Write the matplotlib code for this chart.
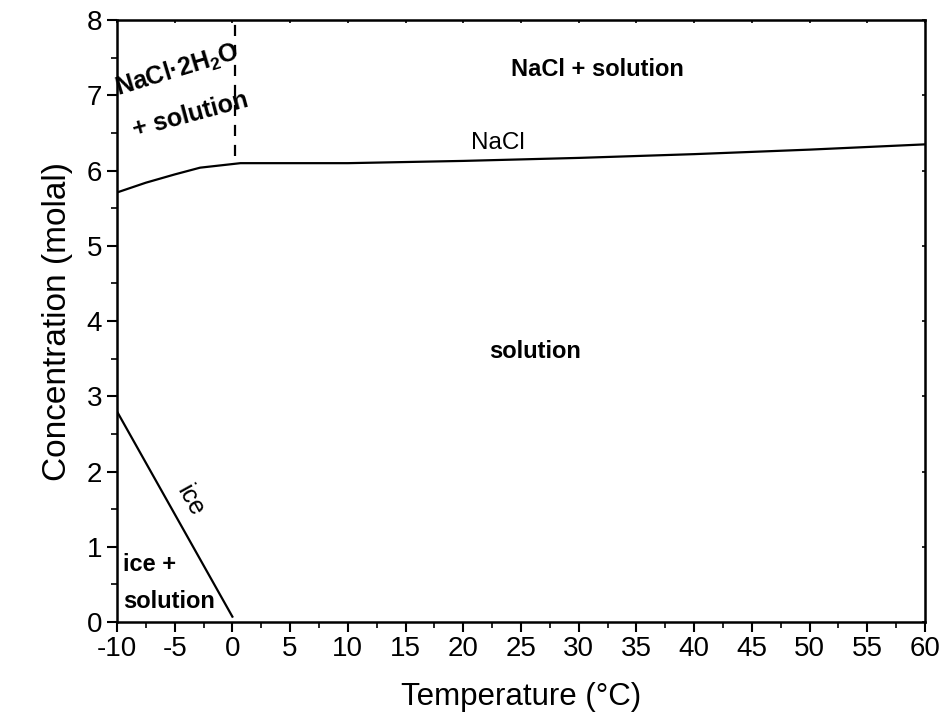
import matplotlib
matplotlib.use("Agg")
import matplotlib.pyplot as plt
from matplotlib.ticker import MultipleLocator

plt.rcParams['font.family'] = ['Liberation Sans', 'DejaVu Sans']
plt.rcParams['mathtext.fontset'] = 'custom'
plt.rcParams['mathtext.rm'] = 'Liberation Sans'
plt.rcParams['mathtext.bf'] = 'Liberation Sans:bold'

# NaCl solubility curve
nacl_t = [-10, -7.5, -5, -2.8, 0.7, 10, 20, 30, 40, 50, 60]
nacl_c = [5.71, 5.84, 5.95, 6.04, 6.10, 6.10, 6.13, 6.17, 6.22, 6.28, 6.35]

# ice line
ice_t = [-10, 0]
ice_c = [2.8, 0.07]

# NaCl.2H2O / NaCl boundary (dashed)
dash_t = [0.2, 0.2]
dash_c = [6.2, 8]

xticks = list(range(-10, 61, 5))
yticks = list(range(0, 9))

fig = plt.figure(figsize=(9.43, 7.24), dpi=100)
ax = fig.add_axes([0.124, 0.141, 0.857, 0.831])

ax.plot(nacl_t, nacl_c, color='black', lw=1.6)
ax.plot(ice_t, ice_c, color='black', lw=1.6)
ax.plot(dash_t, dash_c, color='black', lw=1.6, ls=(0, (5, 4)))

ax.set_xlim(-10, 60)
ax.set_ylim(0, 8)
ax.set_xticks(xticks)
ax.set_xticklabels([str(t) for t in xticks])
ax.set_yticks(yticks)
ax.xaxis.set_minor_locator(MultipleLocator(2.5))
ax.yaxis.set_minor_locator(MultipleLocator(0.5))
ax.tick_params(which='major', direction='out', length=7, width=1.5, labelsize=20)
ax.tick_params(which='minor', direction='out', length=4, width=1.2)
for s in ax.spines.values():
    s.set_linewidth(1.8)

# tiny inward ticks on top and right
sec_x = ax.secondary_xaxis('top')
sec_x.set_xticks(xticks)
sec_x.tick_params(direction='in', length=2, width=1.2, labeltop=False)
sec_y = ax.secondary_yaxis('right')
sec_y.set_yticks(yticks)
sec_y.tick_params(direction='in', length=2, width=1.2, labelright=False)

ax.set_xlabel('Temperature (°C)', fontsize=22.5, labelpad=14)
ax.set_ylabel('Concentration (molal)', fontsize=24, labelpad=10)

ax.text(-4.8, 7.33, r'NaCl·2H$_\mathbf{2}$O', fontsize=18, fontweight='bold',
        rotation=17, ha='center', va='center')
ax.text(-3.6, 6.74, '+ solution', fontsize=18, fontweight='bold',
        rotation=15, ha='center', va='center')
ax.text(31.6, 7.34, 'NaCl + solution', fontsize=17, fontweight='bold',
        ha='center', va='center')
ax.text(23.0, 6.37, 'NaCl', fontsize=17.5, ha='center', va='center')
ax.text(26.2, 3.59, 'solution', fontsize=17, fontweight='bold',
        ha='center', va='center')
ax.text(-3.67, 1.62, 'ice', fontsize=18, rotation=-61, ha='center', va='center')
ax.text(-9.5, 0.77, 'ice +', fontsize=17, fontweight='bold', ha='left', va='center')
ax.text(-9.5, 0.27, 'solution', fontsize=17, fontweight='bold', ha='left', va='center')

fig.savefig('out.png', dpi=100)
